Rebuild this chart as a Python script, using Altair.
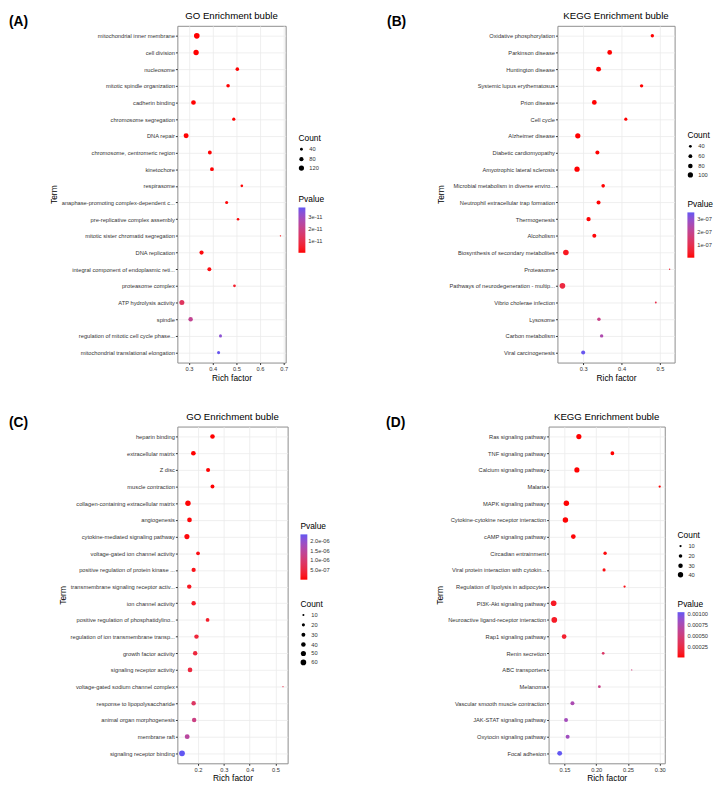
import altair as alt
import pandas as pd

FONT = "Liberation Sans"
RED = "#FF0000"
BLUE = "#6257F2"

# ---------------- Panel A : GO ----------------
A_terms = ["mitochondrial inner membrane", "cell division", "nucleosome", "mitotic spindle organization",
           "cadherin binding", "chromosome segregation", "DNA repair", "chromosome, centromeric region",
           "kinetochore", "respirasome", "anaphase-promoting complex-dependent c...",
           "pre-replicative complex assembly", "mitotic sister chromatid segregation", "DNA replication",
           "integral component of endoplasmic reti...", "proteasome complex", "ATP hydrolysis activity",
           "spindle", "regulation of mitotic cell cycle phase...", "mitochondrial translational elongation"]
A_rich = [0.333, 0.330, 0.504, 0.465, 0.319, 0.489, 0.288, 0.388, 0.397, 0.523,
          0.459, 0.507, 0.686, 0.353, 0.386, 0.492, 0.270, 0.307, 0.433, 0.425]
A_count = [140, 125, 60, 60, 100, 50, 110, 70, 70, 35, 45, 35, 15, 80, 72, 38, 112, 90, 45, 48]
A_p = [1.2e-15, 3.0e-15, 2.1e-14, 4.5e-14, 8.0e-14, 1.1e-13, 1.6e-13, 2.4e-13, 3.1e-13, 3.9e-13,
       4.6e-13, 6.2e-13, 7.4e-13, 9.8e-13, 1.5e-12, 4.8e-12, 1.3e-11, 2.2e-11, 3.3e-11, 3.75e-11]

# ---------------- Panel B : KEGG ----------------
B_terms = ["Oxidative phosphorylation", "Parkinson disease", "Huntington disease", "Systemic lupus erythematosus",
           "Prion disease", "Cell cycle", "Alzheimer disease", "Diabetic cardiomyopathy",
           "Amyotrophic lateral sclerosis", "Microbial metabolism in diverse enviro...",
           "Neutrophil extracellular trap formation", "Thermogenesis", "Alcoholism",
           "Biosynthesis of secondary metabolites", "Proteasome", "Pathways of neurodegeneration - multip...",
           "Vibrio cholerae infection", "Lysosome", "Carbon metabolism", "Viral carcinogenesis"]
B_rich = [0.480, 0.369, 0.340, 0.452, 0.329, 0.411, 0.286, 0.337, 0.284, 0.352,
          0.340, 0.314, 0.329, 0.255, 0.525, 0.246, 0.489, 0.341, 0.348, 0.300]
B_count = [50, 85, 90, 50, 85, 45, 100, 65, 100, 55, 65, 72, 65, 112, 20, 115, 25, 52, 52, 65]
B_p = [2e-13, 1.5e-12, 6e-12, 1.1e-11, 2.4e-11, 5e-11, 9e-11, 2e-10, 4e-10, 8e-10,
       1.6e-9, 3e-9, 6e-9, 2.8e-8, 5.5e-8, 7.5e-8, 9e-8, 1.9e-7, 2.5e-7, 3.5e-7]

# ---------------- Panel C : GO ----------------
C_terms = ["heparin binding", "extracellular matrix", "Z disc", "muscle contraction",
           "collagen-containing extracellular matrix", "angiogenesis", "cytokine-mediated signaling pathway",
           "voltage-gated ion channel activity", "positive regulation of protein kinase ...",
           "transmembrane signaling receptor activ...", "ion channel activity",
           "positive regulation of phosphatidylino...", "regulation of ion transmembrane transp...",
           "growth factor activity", "signaling receptor activity", "voltage-gated sodium channel complex",
           "response to lipopolysaccharide", "animal organ morphogenesis", "membrane raft",
           "signaling receptor binding"]
C_rich = [0.256, 0.182, 0.239, 0.256, 0.161, 0.167, 0.157, 0.200, 0.183, 0.166,
          0.183, 0.237, 0.194, 0.189, 0.169, 0.529, 0.183, 0.185, 0.158, 0.138]
C_count = [40, 42, 32, 30, 55, 42, 50, 28, 35, 38, 38, 28, 38, 38, 42, 5, 38, 38, 45, 62]
C_p = [2e-10, 1e-9, 4e-9, 1.2e-8, 2.5e-8, 4e-8, 6e-8, 9e-8, 1.3e-7, 1.9e-7,
       2.3e-7, 2.8e-7, 4.3e-7, 4.6e-7, 4.9e-7, 5.6e-7, 8.5e-7, 1.2e-6, 1.5e-6, 2.35e-6]

# ---------------- Panel D : KEGG ----------------
D_terms = ["Ras signaling pathway", "TNF signaling pathway", "Calcium signaling pathway", "Malaria",
           "MAPK signaling pathway", "Cytokine-cytokine receptor interaction", "cAMP signaling pathway",
           "Circadian entrainment", "Viral protein interaction with cytokin...",
           "Regulation of lipolysis in adipocytes", "PI3K-Akt signaling pathway",
           "Neuroactive ligand-receptor interaction", "Rap1 signaling pathway", "Renin secretion",
           "ABC transporters", "Melanoma", "Vascular smooth muscle contraction", "JAK-STAT signaling pathway",
           "Oxytocin signaling pathway", "Focal adhesion"]
D_rich = [0.1727, 0.2255, 0.1696, 0.300, 0.153, 0.1515, 0.164, 0.214, 0.2124, 0.2447,
          0.133, 0.134, 0.1495, 0.211, 0.256, 0.205, 0.1626, 0.1525, 0.155, 0.1425]
D_count = [38, 22, 38, 10, 42, 42, 32, 18, 16, 10, 45, 45, 32, 13, 5, 13, 24, 24, 24, 34]
D_p = [1e-7, 4e-7, 1.5e-6, 3e-6, 5e-6, 8e-6, 1.5e-5, 2.5e-5, 3.5e-5, 5e-5,
       1e-4, 1.1e-4, 1.4e-4, 4e-4, 5e-4, 5.6e-4, 7.6e-4, 8e-4, 8.2e-4, 1.05e-3]


def panel(letter, title, terms, rich, count, pval, W, H, xdom, xticks, xfmt,
          sdom, srange, svals, pdom, pvals, pexpr, letter_dx, count_xy, p_xy):
    df = pd.DataFrame({"Term": terms, "RichFactor": rich, "Count": count, "Pvalue": pval})
    pts = alt.Chart(df).mark_circle(opacity=1, strokeWidth=0).encode(
        x=alt.X("RichFactor:Q",
                scale=alt.Scale(domain=xdom, nice=False, zero=False),
                axis=alt.Axis(values=xticks, format=xfmt, title="Rich factor", grid=True,
                              titlePadding=2, labelPadding=1)),
        y=alt.Y("Term:N", sort=terms,
                scale=alt.Scale(type="point", padding=0.6),
                axis=alt.Axis(title="Term", grid=True, labelLimit=300, labelOverlap=False,
                              labelPadding=1, titlePadding=3)),
        size=alt.Size("Count:Q",
                      scale=alt.Scale(domain=sdom, range=srange, zero=False),
                      legend=alt.Legend(title="Count", values=svals, orient="none",
                                        legendX=count_xy[0], legendY=count_xy[1],
                                        symbolFillColor="black", symbolStrokeWidth=0,
                                        symbolOpacity=1, rowPadding=3, titlePadding=4,
                                        labelOffset=5)),
        color=alt.Color("Pvalue:Q",
                        scale=alt.Scale(domain=pdom, range=[RED, BLUE], interpolate="lab"),
                        legend=alt.Legend(title="Pvalue", values=pvals, orient="none",
                                          legendX=p_xy[0], legendY=p_xy[1],
                                          gradientLength=46, gradientThickness=7,
                                          labelExpr=pexpr, titlePadding=4, labelOffset=3)),
    )
    lab = alt.Chart(pd.DataFrame({"t": [letter]})).mark_text(
        align="left", baseline="middle", fontSize=14, fontWeight="bold", font=FONT, color="black"
    ).encode(x=alt.value(letter_dx), y=alt.value(-4), text="t:N")
    return alt.layer(pts, lab).properties(
        width=W, height=H,
        title=alt.TitleParams(title, fontSize=9.8, fontWeight="normal", font=FONT,
                              anchor="middle", frame="group", offset=-6, color="black"),
    ).resolve_scale(color="independent", size="independent")


H = 342

A = panel("(A)", "GO Enrichment buble", A_terms, A_rich, A_count, A_p, 110, H,
          [0.251, 0.708], [0.3, 0.4, 0.5, 0.6, 0.7], ".1f",
          [15, 140], [2, 33], [40, 80, 120],
          [0, 3.8e-11], [1e-11, 2e-11, 3e-11], "format(datum.value, '.0e')",
          -171, (123, 110), (123, 172))

B = panel("(B)", "KEGG Enrichment buble", B_terms, B_rich, B_count, B_p, 119, H,
          [0.233, 0.538], [0.3, 0.4, 0.5], ".1f",
          [20, 115], [2, 33], [40, 60, 80, 100],
          [0, 3.55e-7], [1e-7, 2e-7, 3e-7], "replace(format(datum.value, '.0e'), 'e-7', 'e-07')",
          -173, (132, 107), (132, 177))

C = panel("(C)", "GO Enrichment buble", C_terms, C_rich, C_count, C_p, 112, H,
          [0.120, 0.547], [0.2, 0.3, 0.4, 0.5], ".1f",
          [5, 62], [1.5, 34], [10, 20, 30, 40, 50, 60],
          [0, 2.35e-6], [5e-7, 1e-6, 1.5e-6, 2e-6],
          "replace(replace(format(datum.value, '.1e'), 'e-7', 'e-07'), 'e-6', 'e-06')",
          -171, (125, 176), (125, 97))

D = panel("(D)", "KEGG Enrichment buble", D_terms, D_rich, D_count, D_p, 118, H,
          [0.125, 0.308], [0.15, 0.20, 0.25, 0.30], ".2f",
          [5, 45], [1.5, 33], [10, 20, 30, 40],
          [0, 1.05e-3], [0.00025, 0.0005, 0.00075, 0.001], "format(datum.value, '.5f')",
          -165, (131, 106), (131, 176))

row1 = alt.hconcat(A, B, spacing=62).resolve_scale(color="independent", size="independent")
row2 = alt.hconcat(C, D, spacing=55).resolve_scale(color="independent", size="independent")

chart = alt.vconcat(row1, row2, spacing=29).resolve_scale(
    color="independent", size="independent"
).properties(
    padding={"top": -4, "left": 0, "right": 0, "bottom": 0}, background="white"
).configure_view(
    stroke="#8c8c8c", strokeWidth=1
).configure_axis(
    domain=False, gridColor="#EBEBEB", gridWidth=0.8, tickColor="#333333", tickSize=2,
    labelFont=FONT, labelFontSize=5.8, labelColor="#333333",
    titleFont=FONT, titleFontSize=8.5, titleFontWeight="normal", titleColor="black"
).configure_legend(
    titleFont=FONT, titleFontSize=8.5, titleFontWeight="normal", titleColor="black",
    labelFont=FONT, labelFontSize=5.8, labelColor="#333333"
)

chart.save("out.html", embed_options={"renderer": "svg", "actions": False})
